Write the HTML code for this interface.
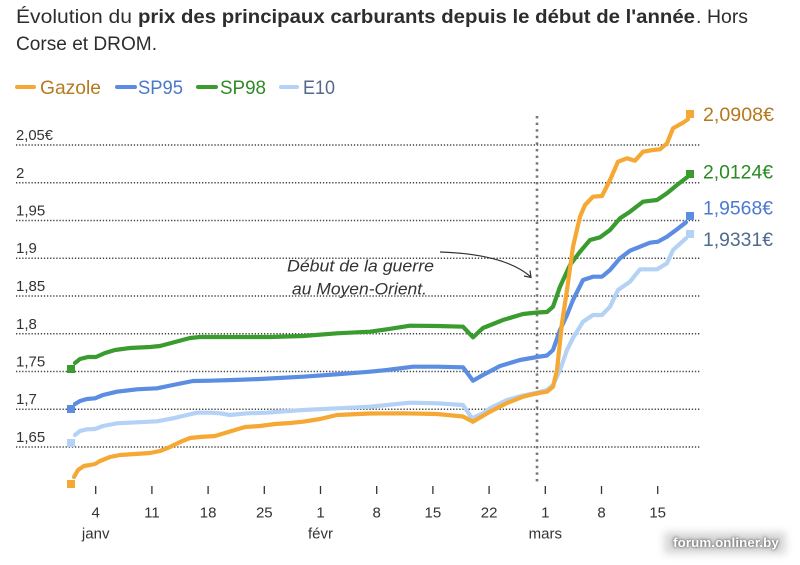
<!DOCTYPE html>
<html><head><meta charset="utf-8"><style>
html,body{margin:0;padding:0;background:#fff;}
#wrap{position:relative;width:800px;height:565px;overflow:hidden;background:#fff;}
svg{position:absolute;left:0;top:0;}
.wmbg{position:absolute;left:664px;top:532px;width:122px;height:22px;background:#bbb;filter:blur(4px);opacity:0.55;}
.wm{position:absolute;left:668px;top:535px;width:116px;text-align:center;font-family:"Liberation Sans",sans-serif;font-weight:bold;font-size:13.3px;color:#fff;text-shadow:0 0 2px #555,0 0 5px #777;letter-spacing:0.1px;}
</style></head><body><div id="wrap">
<svg width="800" height="565" viewBox="0 0 800 565" xmlns="http://www.w3.org/2000/svg" font-family="Liberation Sans, sans-serif">
<!-- Title -->
<g fill="#2d2d2d" font-size="19.5">
<text x="16" y="23" textLength="116" lengthAdjust="spacingAndGlyphs">Évolution du</text>
<text x="138" y="23" font-weight="bold" textLength="557" lengthAdjust="spacingAndGlyphs">prix des principaux carburants depuis le début de l'année</text>
<text x="696" y="23">.</text>
<text x="707" y="23" textLength="41" lengthAdjust="spacingAndGlyphs">Hors</text>
<text x="16" y="50" textLength="141" lengthAdjust="spacingAndGlyphs">Corse et DROM.</text>
</g>
<!-- Legend -->
<g stroke-width="4" stroke-linecap="round">
<line x1="17" y1="87" x2="34" y2="87" stroke="#f5a833"/>
<line x1="117" y1="87" x2="135" y2="87" stroke="#5b8de2"/>
<line x1="198" y1="87" x2="216" y2="87" stroke="#3a9b2e"/>
<line x1="281" y1="87" x2="297" y2="87" stroke="#b4d2f5"/>
</g>
<g font-size="19.5">
<text x="40" y="94" fill="#b57a1e" textLength="61" lengthAdjust="spacingAndGlyphs">Gazole</text>
<text x="138" y="94" fill="#4a78c9" textLength="45" lengthAdjust="spacingAndGlyphs">SP95</text>
<text x="220" y="94" fill="#2f8a26" textLength="46" lengthAdjust="spacingAndGlyphs">SP98</text>
<text x="303" y="94" fill="#52698c" textLength="32" lengthAdjust="spacingAndGlyphs">E10</text>
</g>
<!-- Gridlines -->
<g stroke="#444" stroke-width="1.4" stroke-dasharray="1.3 1.8">
<line x1="16" y1="145" x2="700" y2="145"/>
<line x1="16" y1="182.75" x2="700" y2="182.75"/>
<line x1="16" y1="220.5" x2="700" y2="220.5"/>
<line x1="16" y1="258.25" x2="700" y2="258.25"/>
<line x1="16" y1="296" x2="700" y2="296"/>
<line x1="16" y1="333.75" x2="700" y2="333.75"/>
<line x1="16" y1="371.5" x2="700" y2="371.5"/>
<line x1="16" y1="409.25" x2="700" y2="409.25"/>
<line x1="16" y1="447" x2="700" y2="447"/>
</g>
<!-- Y labels -->
<g fill="#333" font-size="15">
<text x="16" y="140" textLength="37" lengthAdjust="spacingAndGlyphs">2,05€</text>
<text x="16" y="178">2</text>
<text x="16" y="215.5">1,95</text>
<text x="16" y="253">1,9</text>
<text x="16" y="291">1,85</text>
<text x="16" y="329">1,8</text>
<text x="16" y="366.5">1,75</text>
<text x="16" y="404">1,7</text>
<text x="16" y="442">1,65</text>
</g>
<!-- Vertical event line -->
<line x1="537" y1="116" x2="537" y2="482" stroke="#777" stroke-width="2.6" stroke-dasharray="2.4 4.2"/>
<!-- Annotation -->
<g fill="#333" font-size="16.5" font-style="italic">
<text x="287" y="271.5" textLength="147" lengthAdjust="spacingAndGlyphs">Début de la guerre</text>
<text x="292" y="294.5" textLength="135" lengthAdjust="spacingAndGlyphs">au Moyen-Orient.</text>
</g>
<path d="M440,252 Q505,254 531,277" fill="none" stroke="#333" stroke-width="1.2"/>
<path d="M524,276 L531,277.5 L530,270.5" fill="none" stroke="#333" stroke-width="1.2"/>
<!-- X ticks -->
<g stroke="#333" stroke-width="1.3">
<line x1="95.7" y1="486" x2="95.7" y2="494"/>
<line x1="151.9" y1="486" x2="151.9" y2="494"/>
<line x1="208.1" y1="486" x2="208.1" y2="494"/>
<line x1="264.3" y1="486" x2="264.3" y2="494"/>
<line x1="320.5" y1="486" x2="320.5" y2="494"/>
<line x1="376.7" y1="486" x2="376.7" y2="494"/>
<line x1="432.9" y1="486" x2="432.9" y2="494"/>
<line x1="489.1" y1="486" x2="489.1" y2="494"/>
<line x1="545.3" y1="486" x2="545.3" y2="494"/>
<line x1="601.5" y1="486" x2="601.5" y2="494"/>
<line x1="657.7" y1="486" x2="657.7" y2="494"/>
</g>
<g fill="#333" font-size="15" text-anchor="middle">
<text x="95.7" y="517.5">4</text>
<text x="151.9" y="517.5">11</text>
<text x="208.1" y="517.5">18</text>
<text x="264.3" y="517.5">25</text>
<text x="320.5" y="517.5">1</text>
<text x="376.7" y="517.5">8</text>
<text x="432.9" y="517.5">15</text>
<text x="489.1" y="517.5">22</text>
<text x="545.3" y="517.5">1</text>
<text x="601.5" y="517.5">8</text>
<text x="657.7" y="517.5">15</text>
<text x="95.7" y="538.5">janv</text>
<text x="320.5" y="538.5">févr</text>
<text x="545.3" y="538.5">mars</text>
</g>
<!-- Series -->
<g fill="none" stroke-width="4.2" stroke-linejoin="round" stroke-linecap="round">
<polyline stroke="#b4d2f5" points="75,435 80,431 87,429.3 95,429 103,426 117,423.3 137,422.3 157,421.3 173,418.3 187,415 197,412.7 210,412.7 220,413.3 230,415 247,413.3 267,412.7 303,410 337,408.3 370,406.7 410,402.7 437,403.3 463,405 472,418.3 483,413.3 490,408.3 507,400 523,395.5 537,392.7 547,390 553,385 560,370 567,350 573,338 583,321.7 593,315 602,315 610,306.7 618,290 630,281.7 640,269.3 657,269.3 667,263.3 673,250 686,238.3"/>
<polyline stroke="#5b8de2" points="75,404 80,401 87,399 95,398.3 103,395 117,391.7 137,389.3 157,388.3 173,385 193,381 210,380.7 233,380 260,379 303,376.7 337,374.3 370,371.7 387,370 413,366.7 437,366.7 463,367.3 473,380.7 483,375 500,366 520,360 537,357 547,355.5 553,350 560,330 567,315 573,300 583,280 593,276.7 602,276.7 610,270 620,258.3 630,250.7 640,246.7 650,242.7 658,241.7 667,236.7 677,229.3 686,222.3"/>
<polyline stroke="#3a9b2e" points="75,363 80,359 88,357 96,357 105,353 115,350 130,348 150,347 160,346 175,342 190,338 200,337 240,337 270,337 303,336 337,333.3 370,331.7 387,329.3 410,325.7 437,326 463,326.7 473,337.3 483,328 503,320 523,314 537,312.5 547,312 553,306.7 560,286.7 570,265 580,251.7 590,240 600,237.3 610,230 620,218.3 630,211.7 643,201.7 657,200 667,193.3 677,185 687,177.3"/>
<polyline stroke="#f5a833" points="74,477 78,470 84,466 90,465 95,464 100,461 110,457 120,455 135,454 150,453 160,451 170,447 180,442 190,438 200,437 215,436 225,433 235,430 245,427 260,426 275,424 290,423 303,421.7 320,419 337,415 370,413.5 403,413.3 437,414 463,416.5 473,421.7 490,411.7 507,403 523,396.7 537,393.3 547,391.7 553,386.7 557,370 562,323 567,290 573,246.7 580,216.7 585,205 593,196.7 602,196 610,180 618,161.7 627,158.3 635,160.7 643,151.7 653,150 660,149.3 667,143.3 673,128.3 683,122.7 688,119.3"/>
</g>
<!-- Start squares -->
<rect x="67" y="439" width="8" height="8" fill="#b4d2f5"/>
<rect x="67" y="405" width="8" height="8" fill="#5b8de2"/>
<rect x="67" y="365" width="8" height="8" fill="#3a9b2e"/>
<rect x="67" y="480" width="8" height="8" fill="#f5a833"/>
<!-- End squares -->
<rect x="686" y="230" width="8" height="8" fill="#b4d2f5"/>
<rect x="686" y="212" width="8" height="8" fill="#5b8de2"/>
<rect x="686" y="170" width="8" height="8" fill="#3a9b2e"/>
<rect x="686" y="110" width="8" height="8" fill="#f5a833"/>
<!-- End labels -->
<g font-size="19.5">
<text x="703" y="121" fill="#b5791c" textLength="71" lengthAdjust="spacingAndGlyphs">2,0908€</text>
<text x="703" y="178.5" fill="#2a8a22" textLength="70" lengthAdjust="spacingAndGlyphs">2,0124€</text>
<text x="703" y="214.5" fill="#4c7ad0" textLength="70" lengthAdjust="spacingAndGlyphs">1,9568€</text>
<text x="703" y="246" fill="#4f6b8f" textLength="70" lengthAdjust="spacingAndGlyphs">1,9331€</text>
</g>
</svg>
<div class="wmbg"></div>
<div class="wm">forum.onliner.by</div>
</div></body></html>
